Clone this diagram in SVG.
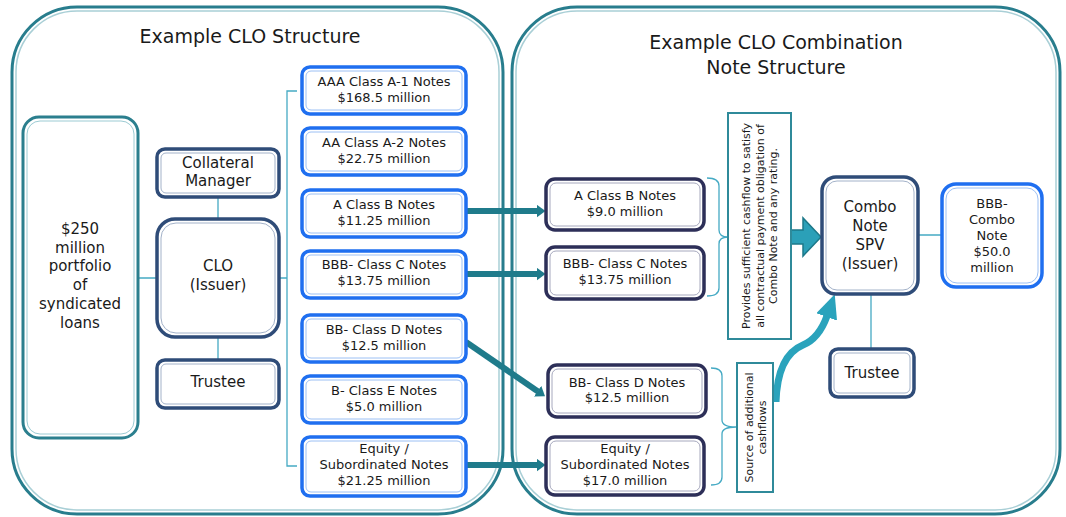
<svg xmlns="http://www.w3.org/2000/svg" width="1066" height="517" viewBox="0 0 1066 517">
<style>
text{font-family:"DejaVu Sans",Verdana,sans-serif;fill:#1a1a1a;text-anchor:middle}
.t19{font-size:19px}
.t15{font-size:15px}
.t13{font-size:13px}
.t11{font-size:11px}
.cont{fill:#fff;stroke:#287d8d;stroke-width:3}
.conti{fill:none;stroke:#a9cfd6;stroke-width:1.5}
.blue{fill:#fff;stroke:#1f6ff0;stroke-width:3.5}
.bluei{fill:none;stroke:#9cc0f4;stroke-width:1}
.navy{fill:#fff;stroke:#2f4c78;stroke-width:3.5}
.navyi{fill:none;stroke:#a3b2c9;stroke-width:1}
.dark{fill:#fff;stroke:#2d2f58;stroke-width:3.5}
.darki{fill:none;stroke:#a6a8bd;stroke-width:1}
.teal{fill:#fff;stroke:#2b7f8e;stroke-width:3}
.teali{fill:none;stroke:#9ccbd3;stroke-width:1}
.tbox{fill:#fff;stroke:#2f8a9a;stroke-width:2}
.thin{fill:none;stroke:#45aac4;stroke-width:1.3}
.arr{fill:none;stroke:#1f7b8b;stroke-width:6;marker-end:url(#head)}
</style>
<defs>
<marker id="head" viewBox="0 0 9 13" refX="0.5" refY="6.5" markerWidth="9" markerHeight="13" markerUnits="userSpaceOnUse" orient="auto">
<path d="M0,0 L9,6.5 L0,13 z" fill="#1f7b8b"/>
</marker>
<marker id="chead" viewBox="0 0 24 22" refX="1" refY="11" markerWidth="24" markerHeight="22" markerUnits="userSpaceOnUse" orient="auto">
<path d="M0,0 L24,11 L0,22 z" fill="#2aa3bc"/>
</marker>
</defs>

<g id="container-left">
<rect class="cont" x="12" y="7" width="491" height="507" rx="65"/>
<rect class="conti" x="16" y="11" width="483" height="499" rx="61"/>
<text class="t19" x="250" y="43">Example CLO Structure</text>
</g>
<g id="container-right">
<rect class="cont" x="512" y="7" width="548" height="507" rx="65"/>
<rect class="conti" x="516" y="11" width="540" height="499" rx="61"/>
<text class="t19" x="776" y="49">Example CLO Combination</text>
<text class="t19" x="776" y="74">Note Structure</text>
</g>

<g id="connectors">
<path class="thin" d="M138,278 H157 M218,197 V218 M218,337 V359 M279,278 H287 M297,91 H287 V466 H297"/>
<path class="thin" d="M707,178 Q719,178 719,186 V230 Q719,237 728,237 Q719,237 719,244 V288 Q719,296 707,296"/>
<path class="thin" d="M711,368 Q722,368 722,376 V420 Q722,427 736,427 Q722,427 722,434 V477 Q722,485 711,485"/>
<path class="thin" d="M918,235 H942 M871,294 V349"/>
<path class="arr" d="M466,211 H537"/>
<path class="arr" d="M466,274 H537"/>
<path class="arr" d="M466,342 L538,391.5"/>
<path class="arr" d="M466,465 H537"/>
<path d="M791,230 H803 V218 L821,237 L803,256 V244 H791 z" fill="#2ba0b8" stroke="#1c7889" stroke-width="1.5"/>
<path d="M776,402 C777,370 786,352 803,345 C815,340 822,330 827,316" fill="none" stroke="#2aa3bc" stroke-width="7" marker-end="url(#chead)"/>
</g>

<g id="portfolio">
<rect class="teal" x="23" y="117" width="115" height="321" rx="16"/>
<rect class="teali" x="27" y="121" width="107" height="313" rx="13"/>
<text class="t15" x="80" y="234">$250</text>
<text class="t15" x="80" y="253">million</text>
<text class="t15" x="80" y="271">portfolio</text>
<text class="t15" x="80" y="290">of</text>
<text class="t15" x="80" y="309">syndicated</text>
<text class="t15" x="80" y="328">loans</text>
</g>

<g id="collateral-manager">
<rect class="navy" x="157" y="149" width="122" height="48" rx="8"/>
<rect class="navyi" x="161" y="153" width="114" height="40" rx="5"/>
<text class="t15" x="218" y="168">Collateral</text>
<text class="t15" x="218" y="186">Manager</text>
</g>

<g id="clo">
<rect class="navy" x="157" y="219" width="122" height="118" rx="18"/>
<rect class="navyi" x="161" y="223" width="114" height="110" rx="15"/>
<text class="t15" x="218" y="271">CLO</text>
<text class="t15" x="218" y="290">(Issuer)</text>
</g>

<g id="trustee-left">
<rect class="navy" x="157" y="360" width="122" height="48" rx="8"/>
<rect class="navyi" x="161" y="364" width="114" height="40" rx="5"/>
<text class="t15" x="218" y="387">Trustee</text>
</g>

<g id="note-aaa">
<rect class="blue" x="302" y="67" width="164" height="47" rx="8"/>
<rect class="bluei" x="306" y="71" width="156" height="39" rx="5"/>
<text class="t13" x="384" y="86">AAA Class A-1 Notes</text>
<text class="t13" x="384" y="102">$168.5 million</text>
</g>
<g id="note-aa">
<rect class="blue" x="302" y="128" width="164" height="47" rx="8"/>
<rect class="bluei" x="306" y="132" width="156" height="39" rx="5"/>
<text class="t13" x="384" y="147">AA Class A-2 Notes</text>
<text class="t13" x="384" y="163">$22.75 million</text>
</g>
<g id="note-a">
<rect class="blue" x="302" y="190" width="164" height="47" rx="8"/>
<rect class="bluei" x="306" y="194" width="156" height="39" rx="5"/>
<text class="t13" x="384" y="209">A Class B Notes</text>
<text class="t13" x="384" y="225">$11.25 million</text>
</g>
<g id="note-bbb">
<rect class="blue" x="302" y="251" width="164" height="47" rx="8"/>
<rect class="bluei" x="306" y="255" width="156" height="39" rx="5"/>
<text class="t13" x="384" y="269">BBB- Class C Notes</text>
<text class="t13" x="384" y="285">$13.75 million</text>
</g>
<g id="note-bb">
<rect class="blue" x="302" y="315" width="164" height="47" rx="8"/>
<rect class="bluei" x="306" y="319" width="156" height="39" rx="5"/>
<text class="t13" x="384" y="334">BB- Class D Notes</text>
<text class="t13" x="384" y="350">$12.5 million</text>
</g>
<g id="note-b">
<rect class="blue" x="302" y="376" width="164" height="47" rx="8"/>
<rect class="bluei" x="306" y="380" width="156" height="39" rx="5"/>
<text class="t13" x="384" y="395">B- Class E Notes</text>
<text class="t13" x="384" y="411">$5.0 million</text>
</g>
<g id="note-equity">
<rect class="blue" x="302" y="437" width="164" height="59" rx="8"/>
<rect class="bluei" x="306" y="441" width="156" height="51" rx="5"/>
<text class="t13" x="384" y="453">Equity /</text>
<text class="t13" x="384" y="469">Subordinated Notes</text>
<text class="t13" x="384" y="485">$21.25 million</text>
</g>

<g id="r-note-a">
<rect class="dark" x="546" y="179" width="158" height="51" rx="9"/>
<rect class="darki" x="550" y="183" width="150" height="43" rx="6"/>
<text class="t13" x="625" y="200">A Class B Notes</text>
<text class="t13" x="625" y="216">$9.0 million</text>
</g>
<g id="r-note-bbb">
<rect class="dark" x="546" y="247" width="158" height="52" rx="9"/>
<rect class="darki" x="550" y="251" width="150" height="44" rx="6"/>
<text class="t13" x="625" y="268">BBB- Class C Notes</text>
<text class="t13" x="625" y="284">$13.75 million</text>
</g>
<g id="r-note-bb">
<rect class="dark" x="548" y="365" width="158" height="52" rx="9"/>
<rect class="darki" x="552" y="369" width="150" height="44" rx="6"/>
<text class="t13" x="627" y="387">BB- Class D Notes</text>
<text class="t13" x="627" y="402">$12.5 million</text>
</g>
<g id="r-note-equity">
<rect class="dark" x="546" y="437" width="158" height="58" rx="9"/>
<rect class="darki" x="550" y="441" width="150" height="50" rx="6"/>
<text class="t13" x="625" y="453">Equity /</text>
<text class="t13" x="625" y="469">Subordinated Notes</text>
<text class="t13" x="625" y="485">$17.0 million</text>
</g>

<g id="provides-box">
<rect class="tbox" x="728" y="113" width="63" height="226"/>
<g transform="translate(759.5,226) rotate(-90)">
<text class="t11" x="0" y="-9.5">Provides sufficient cashflow to satisfy</text>
<text class="t11" x="0" y="4">all contractual payment obligation of</text>
<text class="t11" x="0" y="17.5">Combo Note and any rating.</text>
</g>
</g>

<g id="source-box">
<rect class="tbox" x="737" y="363" width="36" height="129"/>
<g transform="translate(755,427.5) rotate(-90)">
<text class="t11" x="0" y="-2.5">Source of additional</text>
<text class="t11" x="0" y="11">cashflows</text>
</g>
</g>

<g id="combo-spv">
<rect class="navy" x="822" y="177" width="96" height="117" rx="14"/>
<rect class="navyi" x="826" y="181" width="88" height="109" rx="11"/>
<text class="t15" x="870" y="211.5">Combo</text>
<text class="t15" x="870" y="230.5">Note</text>
<text class="t15" x="870" y="249.5">SPV</text>
<text class="t15" x="870" y="268.5">(Issuer)</text>
</g>

<g id="combo-note">
<rect class="blue" x="942" y="184" width="100" height="103" rx="14"/>
<rect class="bluei" x="946" y="188" width="92" height="95" rx="11"/>
<text class="t13" x="992" y="207.5">BBB-</text>
<text class="t13" x="992" y="223.5">Combo</text>
<text class="t13" x="992" y="239.5">Note</text>
<text class="t13" x="992" y="255.5">$50.0</text>
<text class="t13" x="992" y="271.5">million</text>
</g>

<g id="trustee-right">
<rect class="navy" x="830" y="349" width="84" height="48" rx="8"/>
<rect class="navyi" x="834" y="353" width="76" height="40" rx="5"/>
<text class="t15" x="872" y="377.5">Trustee</text>
</g>
</svg>
